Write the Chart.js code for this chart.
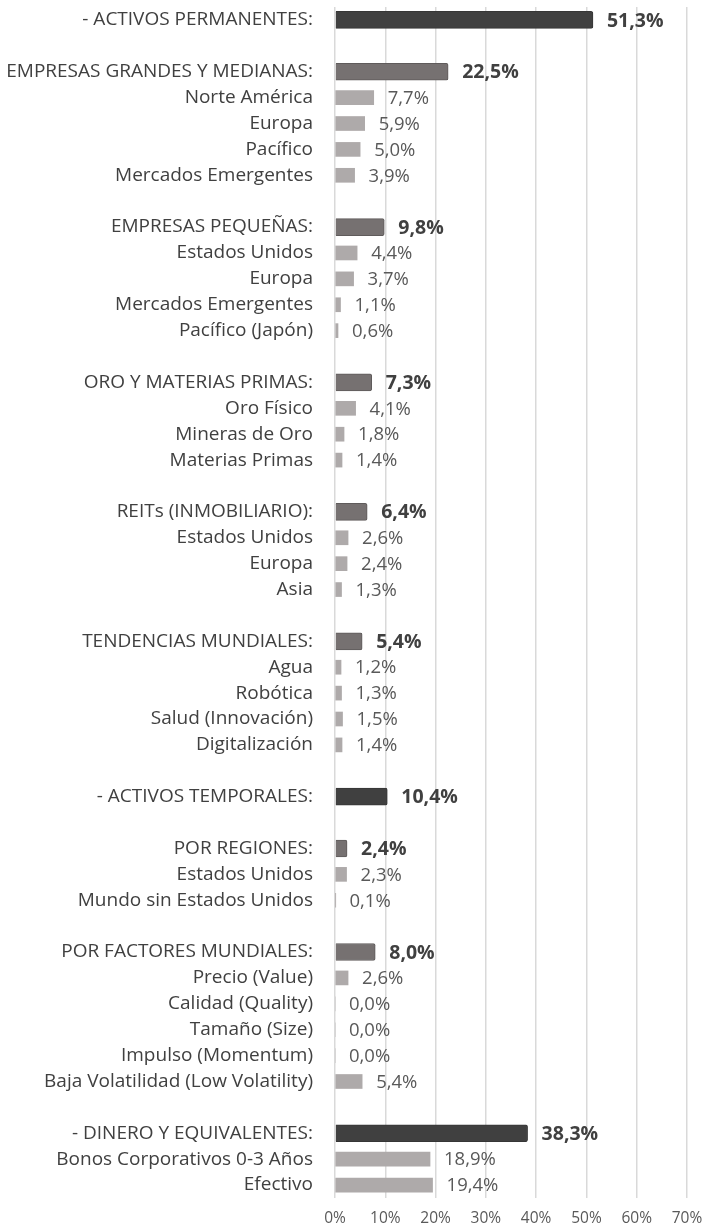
<!DOCTYPE html>
<html>
<head>
<meta charset="utf-8">
<script src="https://cdn.jsdelivr.net/npm/chart.js@4.4.1/dist/chart.umd.min.js"></script>
<style>
  html, body { margin: 0; padding: 0; background: #fff; }
  #wrap { width: 707px; height: 1228px; }
</style>
</head>
<body>
<div id="wrap"><canvas id="chart" width="707" height="1228"></canvas></div>
<script>
// rows top to bottom; '' rows are spacers between groups
const labels = [
  '- ACTIVOS PERMANENTES:', '',
  'EMPRESAS GRANDES Y MEDIANAS:', 'Norte América', 'Europa', 'Pacífico', 'Mercados Emergentes', '',
  'EMPRESAS PEQUEÑAS:', 'Estados Unidos', 'Europa', 'Mercados Emergentes', 'Pacífico (Japón)', '',
  'ORO Y MATERIAS PRIMAS:', 'Oro Físico', 'Mineras de Oro', 'Materias Primas', '',
  'REITs (INMOBILIARIO):', 'Estados Unidos', 'Europa', 'Asia', '',
  'TENDENCIAS MUNDIALES:', 'Agua', 'Robótica', 'Salud (Innovación)', 'Digitalización', '',
  '- ACTIVOS TEMPORALES:', '',
  'POR REGIONES:', 'Estados Unidos', 'Mundo sin Estados Unidos', '',
  'POR FACTORES MUNDIALES:', 'Precio (Value)', 'Calidad (Quality)', 'Tamaño (Size)', 'Impulso (Momentum)', 'Baja Volatilidad (Low Volatility)', '',
  '- DINERO Y EQUIVALENTES:', 'Bonos Corporativos 0-3 Años', 'Efectivo'
];

const values = [
  51.3, null,
  22.5, 7.7, 5.9, 5.0, 3.9, null,
  9.8, 4.4, 3.7, 1.1, 0.6, null,
  7.3, 4.1, 1.8, 1.4, null,
  6.4, 2.6, 2.4, 1.3, null,
  5.4, 1.2, 1.3, 1.5, 1.4, null,
  10.4, null,
  2.4, 2.3, 0.1, null,
  8.0, 2.6, 0.0, 0.0, 0.0, 5.4, null,
  38.3, 18.9, 19.4
];

// row kind: t = top section, g = group header, i = item, '' = spacer
const kinds = [
  't', '',
  'g', 'i', 'i', 'i', 'i', '',
  'g', 'i', 'i', 'i', 'i', '',
  'g', 'i', 'i', 'i', '',
  'g', 'i', 'i', 'i', '',
  'g', 'i', 'i', 'i', 'i', '',
  't', '',
  'g', 'i', 'i', '',
  'g', 'i', 'i', 'i', 'i', 'i', '',
  't', 'i', 'i'
];

const xTicks = [0, 10, 20, 30, 40, 50, 60, 70];

const FONT = '"Open Sans", sans-serif';
const fmt = (v) => v.toFixed(1).replace('.', ',') + '%';

const headData = values.map((v, i) => (kinds[i] === 't' || kinds[i] === 'g' ? v : null));
const itemData = values.map((v, i) => (kinds[i] === 'i' ? v : null));
const headColors = kinds.map((k) => (k === 't' ? '#404040' : '#767171'));
const headBorders = kinds.map((k) => (k === 't' ? '#363636' : '#5f5b5b'));

const valueLabels = {
  id: 'valueLabels',
  afterDatasetsDraw(chart) {
    const ctx = chart.ctx;
    ctx.save();
    ctx.textBaseline = 'middle';
    ctx.textAlign = 'left';
    chart.data.datasets.forEach((ds, di) => {
      const meta = chart.getDatasetMeta(di);
      meta.data.forEach((el, i) => {
        const v = ds.data[i];
        if (v === null || v === undefined) return;
        const bold = di === 0;
        ctx.font = (bold ? 'bold 19.5px ' : '18.5px ') + FONT;
        ctx.fillStyle = bold ? '#404040' : '#595959';
        ctx.fillText(fmt(v), el.x + 14, el.y + 1);
      });
    });
    ctx.restore();
  }
};

new Chart(document.getElementById('chart'), {
  type: 'bar',
  data: {
    labels: labels,
    datasets: [
      {
        data: headData,
        backgroundColor: headColors,
        borderColor: headBorders,
        borderWidth: 1,
        borderRadius: 2,
        borderSkipped: 'start',
        barThickness: 17,
        grouped: false
      },
      {
        data: itemData,
        backgroundColor: '#aeaaaa',
        barThickness: 14,
        grouped: false
      }
    ]
  },
  options: {
    indexAxis: 'y',
    responsive: false,
    animation: false,
    events: [],
    layout: { padding: { top: 7, right: 20, bottom: 0, left: 0 } },
    plugins: { legend: { display: false }, tooltip: { enabled: false } },
    scales: {
      x: {
        min: 0,
        max: 70,
        afterBuildTicks: (scale) => { scale.ticks = xTicks.map((v) => ({ value: v })); },
        afterFit: (scale) => { scale.height = 30; scale.paddingLeft = 0; scale.paddingRight = 0; },
        border: { display: false },
        grid: { color: '#d9d9d9', lineWidth: 1.5, drawTicks: false },
        ticks: {
          padding: 11,
          color: '#595959',
          font: { family: FONT, size: 15.5 },
          callback: (v) => v + '%'
        }
      },
      y: {
        afterFit: (scale) => { scale.width = 335; scale.paddingTop = 0; scale.paddingBottom = 0; },
        border: { display: false },
        grid: { display: false, drawTicks: false },
        ticks: {
          autoSkip: false,
          padding: 22,
          color: '#404040',
          font: { family: FONT, size: 19 }
        }
      }
    }
  },
  plugins: [valueLabels]
});
</script>
</body>
</html>
